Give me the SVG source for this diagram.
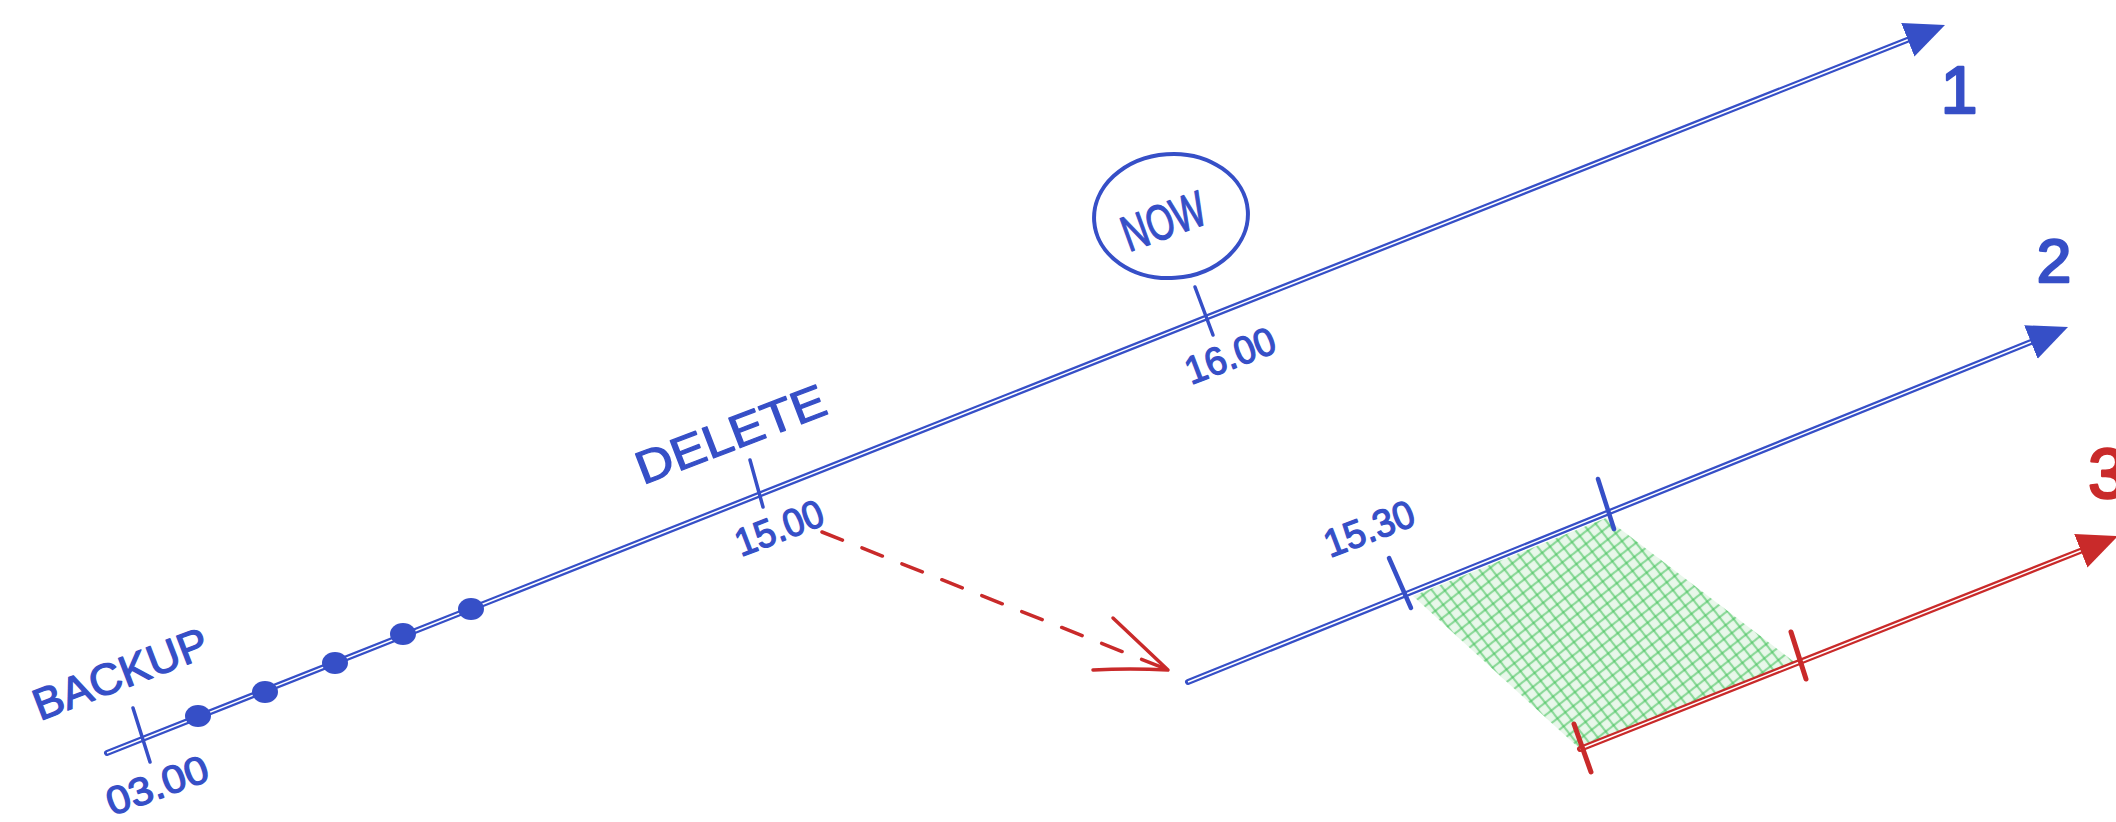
<svg xmlns="http://www.w3.org/2000/svg" width="2116" height="822" viewBox="0 0 2116 822">
<style>
.bl{stroke:#364fc7;stroke-width:6;fill:none;stroke-linecap:round}
.wl{stroke:#ffffff;stroke-width:1.5;fill:none}
.rl{stroke:#c92a2a;stroke-width:6;fill:none;stroke-linecap:round}
.tb{stroke:#364fc7;stroke-width:4.5;stroke-linecap:round;fill:none}
.tr{stroke:#c92a2a;stroke-width:5;stroke-linecap:round;fill:none}
.t{font-family:"Liberation Sans","DejaVu Sans",sans-serif;fill:#364fc7;stroke:#364fc7;stroke-width:1.3;stroke-linejoin:round}
.lab{font-size:44px}
.num{font-size:39px}
.big{font-size:66px;stroke-width:2.5}
.dot{fill:#364fc7}
</style>
<defs>
<marker id="ahb" viewBox="0 -20 42 40" markerWidth="42" markerHeight="40" refX="0" refY="0" markerUnits="userSpaceOnUse" orient="auto">
<path d="M40,0 L0,-18 L0,18 Z" fill="#364fc7"/>
</marker>
<marker id="ahr" viewBox="0 -20 42 40" markerWidth="42" markerHeight="40" refX="0" refY="0" markerUnits="userSpaceOnUse" orient="auto">
<path d="M40,0 L0,-18 L0,18 Z" fill="#c92a2a"/>
</marker>
<pattern id="hatch" patternUnits="userSpaceOnUse" width="10" height="10" patternTransform="rotate(-38)">
<rect width="10" height="10" fill="#40c057" fill-opacity="0.12"/>
<line x1="0" y1="5" x2="10" y2="5" stroke="#40c057" stroke-width="2.2" stroke-opacity="0.55"/>
<line x1="5" y1="0" x2="5" y2="10" stroke="#40c057" stroke-width="2.2" stroke-opacity="0.55"/>
</pattern>
</defs>

<g id="green-overlap">
<path d="M1413,596 L1606,518 L1797,664 L1580,749 Z" fill="url(#hatch)"/>
</g>

<g id="timeline-1">
<path class="bl" d="M107,753 L1907.8,39.7" marker-end="url(#ahb)"/>
<path class="wl" d="M107,753 L1907.8,39.7"/>
<ellipse class="dot" cx="198" cy="716" rx="13" ry="11"/>
<ellipse class="dot" cx="265" cy="692" rx="13" ry="11"/>
<ellipse class="dot" cx="335" cy="663" rx="13" ry="11"/>
<ellipse class="dot" cx="403" cy="634" rx="13" ry="11"/>
<ellipse class="dot" cx="471" cy="609" rx="13" ry="11"/>
<line class="tb" style="stroke-width:3.5" x1="133" y1="708" x2="150" y2="762"/>
<line class="tb" style="stroke-width:3.5" x1="750" y1="460" x2="763" y2="507"/>
<line class="tb" style="stroke-width:3.5" x1="1195" y1="287" x2="1213" y2="335"/>
</g>

<g id="label-backup">
<text class="t lab" transform="translate(40,721) rotate(-21)" textLength="184" lengthAdjust="spacingAndGlyphs">BACKUP</text>
<text class="t num" transform="translate(112,816) rotate(-20)" textLength="106" lengthAdjust="spacingAndGlyphs">03.00</text>
</g>

<g id="label-delete">
<text class="t lab" style="font-size:46px" transform="translate(643,485) rotate(-21)" textLength="200" lengthAdjust="spacingAndGlyphs">DELETE</text>
<text class="t num" transform="translate(741,557) rotate(-21)" textLength="92" lengthAdjust="spacingAndGlyphs">15.00</text>
</g>

<g id="label-now">
<ellipse cx="1171" cy="216" rx="77" ry="62" fill="none" stroke="#364fc7" stroke-width="4" transform="rotate(-4 1171 216)"/>
<text class="t lab" style="font-size:50px" transform="translate(1129,252) rotate(-20)" textLength="86" lengthAdjust="spacingAndGlyphs">NOW</text>
<text class="t num" transform="translate(1191,385) rotate(-21)" textLength="94" lengthAdjust="spacingAndGlyphs">16.00</text>
</g>

<g id="label-1">
<text class="t big" x="1959" y="113" text-anchor="middle">1</text>
</g>

<g id="timeline-2">
<path class="bl" d="M1188,682 L2030.9,342" marker-end="url(#ahb)"/>
<path class="wl" d="M1188,682 L2030.9,342"/>
<line class="tb" x1="1389" y1="558" x2="1411" y2="608"/>
<line class="tb" x1="1598" y1="479" x2="1614" y2="529"/>
<text class="t num" transform="translate(1330,558) rotate(-21)" textLength="94" lengthAdjust="spacingAndGlyphs">15.30</text>
</g>

<g id="label-2">
<text class="t big" style="font-size:62px" x="2054" y="282" text-anchor="middle">2</text>
</g>

<g id="timeline-3">
<path class="rl" d="M1580,749 L2080.8,550.7" marker-end="url(#ahr)"/>
<path class="wl" d="M1580,749 L2080.8,550.7"/>
<line class="tr" x1="1574" y1="724" x2="1591" y2="772"/>
<line class="tr" x1="1791" y1="632" x2="1806" y2="679"/>
</g>

<g id="label-3">
<text class="t big" style="fill:#c92a2a;stroke:#c92a2a;font-size:70px" x="2088" y="498">3</text>
</g>

<g id="connectors">
<path d="M822,532 L1166,669" fill="none" stroke="#c92a2a" stroke-width="3.5" stroke-dasharray="22 21" stroke-linecap="round"/>
<path d="M1113,618 L1168,670 Q1130,668 1093,670" fill="none" stroke="#c92a2a" stroke-width="3.5" stroke-linecap="round" stroke-linejoin="round"/>
</g>
</svg>
